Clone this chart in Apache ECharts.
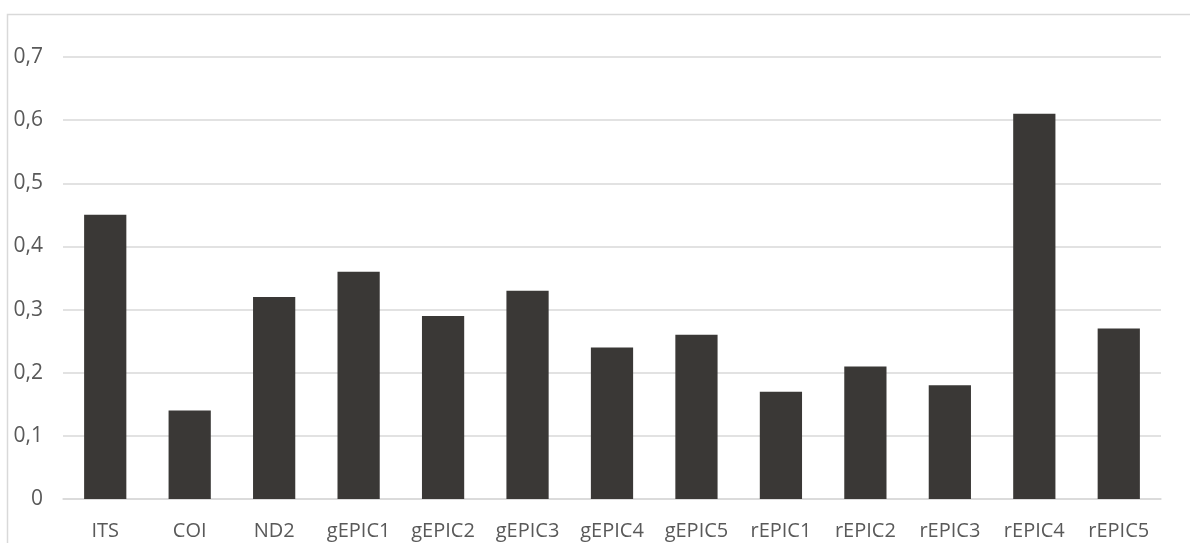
<!DOCTYPE html>
<html><head><meta charset="utf-8">
<script src="https://cdn.jsdelivr.net/npm/echarts@6/dist/echarts.min.js"></script>
<style>html,body{margin:0;padding:0;background:#fff}#c{width:1190px;height:543px}</style>
</head><body><div id="c"></div>
<script>
const categories = ['ITS','COI','ND2','gEPIC1','gEPIC2','gEPIC3','gEPIC4','gEPIC5','rEPIC1','rEPIC2','rEPIC3','rEPIC4','rEPIC5'];
const values = [0.45,0.14,0.32,0.36,0.29,0.33,0.24,0.26,0.17,0.21,0.18,0.61,0.27];
const yTicks = {min:0,max:0.7,interval:0.1};

const chart = echarts.init(document.getElementById('c'), null, {renderer:'canvas'});
chart.setOption({
  animation:false,
  backgroundColor:'#fff',
  textStyle:{fontFamily:'Open Sans'},
  graphic:[{type:'rect',shape:{x:7.5,y:14.5,width:1200,height:560},style:{fill:'none',stroke:'#d9d9d9',lineWidth:1.5},silent:true}],
  grid:{left:63,right:29,top:57,bottom:44,containLabel:false},
  xAxis:{type:'category',data:categories,
    axisLine:{lineStyle:{color:'#d9d9d9',width:1.5}},axisTick:{show:false},
    axisLabel:{color:'#595959',fontSize:20,fontFamily:'Open Sans',margin:22}},
  yAxis:{type:'value',min:yTicks.min,max:yTicks.max,interval:yTicks.interval,
    axisLine:{show:false},axisTick:{show:false},
    splitLine:{lineStyle:{color:'#d9d9d9',width:1.5}},
    axisLabel:{color:'#595959',fontSize:21,fontFamily:'Open Sans',margin:20,
      formatter:v=> v===0?'0':v.toFixed(1).replace('.',',')}},
  series:[{type:'bar',data:values,barWidth:'50%',itemStyle:{color:'#3a3836'}}]
});
</script></body></html>
